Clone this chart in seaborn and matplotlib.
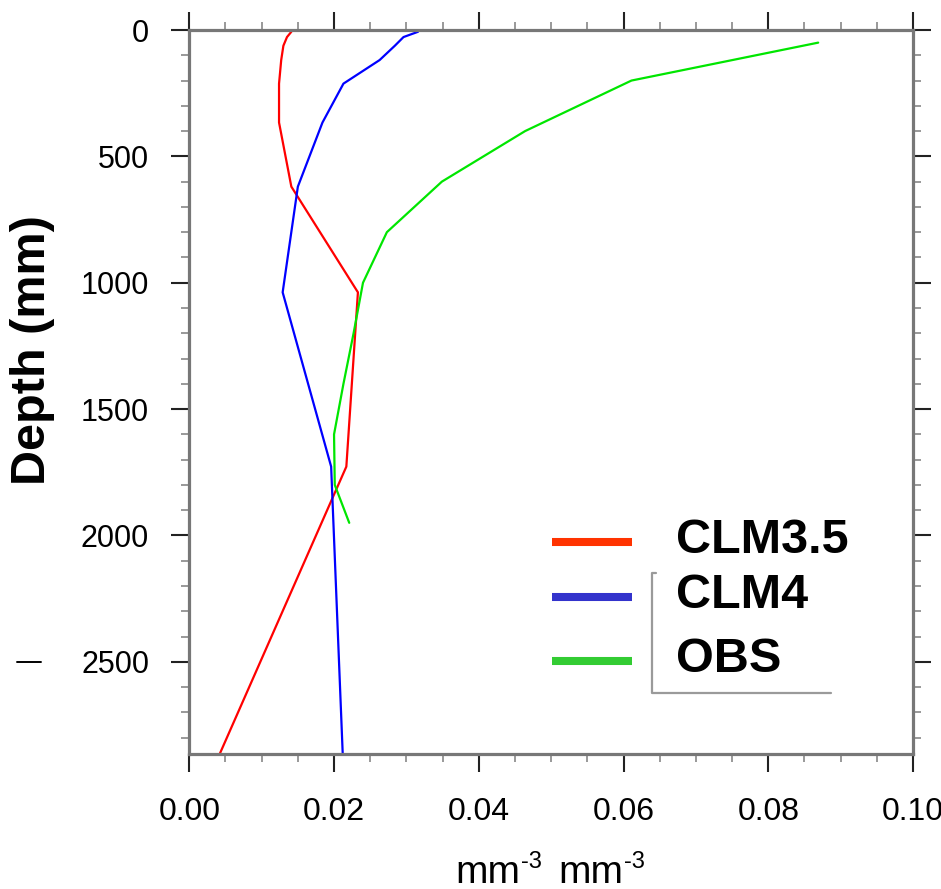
import numpy as np
import pandas as pd
import matplotlib
matplotlib.use("Agg")
import matplotlib.pyplot as plt
from matplotlib.lines import Line2D
from matplotlib.ticker import MultipleLocator, FormatStrFormatter
import seaborn as sns

# --- Data ---
# CLM soil node depths (mm)
depth_clm = [7.1, 27.9, 62.3, 118.9, 212.2, 366.1, 619.8, 1038.0, 1727.6, 2864.7]
clm35 = [0.0141, 0.0135, 0.0130, 0.0127, 0.0124, 0.0124, 0.0141, 0.0233, 0.0217, 0.0042]
clm4 = [0.0316, 0.0296, 0.0284, 0.0263, 0.0213, 0.0184, 0.0150, 0.0129, 0.0196, 0.0212]

depth_obs = [50, 200, 400, 600, 800, 1000, 1200, 1400, 1600, 1800, 1950]
obs = [0.0869, 0.0611, 0.0464, 0.0349, 0.0273, 0.0240, 0.0227, 0.0213, 0.0200, 0.0201, 0.0221]

series_names = ["CLM3.5", "CLM4", "OBS"]
line_colors = {"CLM3.5": "#ff0000", "CLM4": "#0000ff", "OBS": "#00e600"}
legend_colors = ["#ff3300", "#3333cc", "#33cc33"]

W, H = 941, 889


def fx(px):
    return px / W


def fy(py):
    return 1 - py / H


def build_frame():
    parts = [
        pd.DataFrame({"depth": depth_clm, "value": clm35, "series": "CLM3.5"}),
        pd.DataFrame({"depth": depth_clm, "value": clm4, "series": "CLM4"}),
        pd.DataFrame({"depth": depth_obs, "value": obs, "series": "OBS"}),
    ]
    return pd.concat(parts, ignore_index=True)


def main():
    sns.set_style("white")
    plt.rcParams["font.family"] = ["Liberation Sans", "DejaVu Sans"]
    plt.rcParams["text.color"] = "black"
    plt.rcParams["xtick.labelcolor"] = "black"
    plt.rcParams["ytick.labelcolor"] = "black"

    df = build_frame()

    fig = plt.figure(figsize=(W / 100, H / 100), dpi=100)
    ax = fig.add_axes([fx(189.3), fy(754), fx(913) - fx(189.3), fy(30) - fy(754)])

    sns.lineplot(data=df, x="value", y="depth", hue="series", palette=line_colors,
                 sort=False, estimator=None, lw=1.6, legend=False, ax=ax)

    ax.set_xlim(0, 0.1)
    ax.set_ylim(max(depth_clm), 0)
    ax.xaxis.set_major_locator(MultipleLocator(0.02))
    ax.xaxis.set_minor_locator(MultipleLocator(0.005))
    ax.xaxis.set_major_formatter(FormatStrFormatter("%.2f"))
    ax.yaxis.set_major_locator(MultipleLocator(500))
    ax.yaxis.set_minor_locator(MultipleLocator(100))

    for s in ax.spines.values():
        s.set_visible(True)
        s.set_color("#777777")
        s.set_linewidth(2.3)

    ax.tick_params(which="major", direction="out", length=13, width=1.5, color="#222222",
                   top=True, right=True, bottom=True, left=True)
    ax.tick_params(which="minor", direction="out", length=6, width=1.2, color="#888888",
                   top=True, right=True, bottom=True, left=True)
    ax.tick_params(axis="y", which="major", labelsize=22, pad=16, labelcolor="black")
    ax.tick_params(axis="x", which="major", labelsize=23, pad=18, labelcolor="black")
    ax.set_xlabel("")
    ax.set_ylabel("")

    # axis titles
    fig.text(fx(33), fy(350), "Depth (mm)", rotation=90, fontsize=35, fontweight="bold",
             ha="center", va="center", color="black")
    # "mm-3 mm-3" with raised plain hyphens, built from pieces
    for x0 in (455, 558):
        fig.text(fx(x0), fy(883), "mm", fontsize=28, ha="left", va="baseline", color="black")
        fig.text(fx(x0 + 66), fy(868), "-3", fontsize=17, ha="left", va="baseline", color="black")

    # hand-placed legend
    leg_y = [541.7, 596.7, 660.7]
    for name, col, yy in zip(series_names, legend_colors, leg_y):
        fig.add_artist(Line2D([fx(552), fx(632)], [fy(yy), fy(yy)], color=col, lw=5.8,
                              solid_capstyle="butt"))
        fig.text(fx(676), fy(yy - 1), name, fontsize=35, fontweight="bold",
                 ha="left", va="center", color="black")

    # stray frame pieces next to the legend
    gray = "#9a9a9a"
    fig.add_artist(Line2D([fx(655.5), fx(651.7), fx(651.7), fx(831)],
                          [fy(572.7), fy(572.7), fy(693.3), fy(693.3)],
                          color=gray, lw=1.6))
    fig.add_artist(Line2D([fx(17), fx(41)], [fy(662), fy(662)], color="black", lw=1.4))

    fig.savefig("out.png", dpi=100)
    plt.close(fig)


if __name__ == "__main__":
    main()
